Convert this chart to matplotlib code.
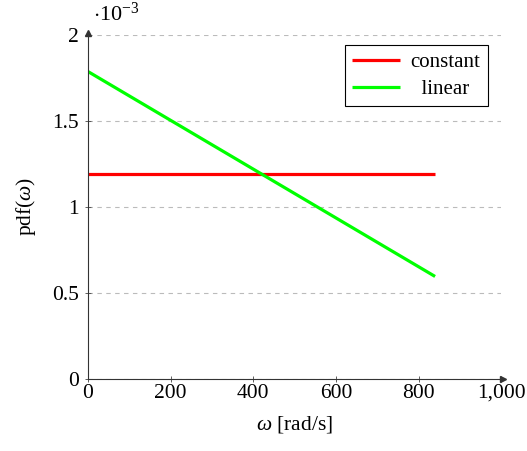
import matplotlib.pyplot as plt
from matplotlib.ticker import FuncFormatter

plt.rcParams["font.family"] = "Liberation Serif"
plt.rcParams["mathtext.fontset"] = "custom"
plt.rcParams["mathtext.rm"] = "Liberation Serif"
plt.rcParams["mathtext.it"] = "Liberation Serif:italic"

# pdf of omega over [0, 840] rad/s
omega = [0, 840]
constant = [1.19e-3, 1.19e-3]
linear = [1.786e-3, 0.595e-3]

xticks = [0, 200, 400, 600, 800, 1000]
yticks = [0, 0.5e-3, 1e-3, 1.5e-3, 2e-3]

fig = plt.figure(figsize=(5.27, 4.51), dpi=100)
ax = fig.add_axes([0.167, 0.160, 0.784, 0.763])

scale = 1e-3
ax.plot(omega, [v / scale for v in constant], color="#ff0000", lw=2.3, label="constant", solid_capstyle="butt")
ax.plot(omega, [v / scale for v in linear], color="#00ff00", lw=2.3, label="  linear", solid_capstyle="butt")

ax.set_xlim(0, 1000)
ax.set_ylim(0, 2)
ax.set_xticks(xticks)
ax.set_yticks([t / scale for t in yticks])
ax.xaxis.set_major_formatter(FuncFormatter(lambda v, p: f"{int(v):,}"))
ax.yaxis.set_major_formatter(FuncFormatter(lambda v, p: f"{v:g}"))
ax.tick_params(labelsize=15.5, direction="inout", length=5, width=0.6, color="#444444")
ax.tick_params(axis="x", pad=1)
ax.tick_params(axis="y", pad=4)

ax.grid(axis="y", linestyle=(0, (4, 4)), color="#bbbbbb", lw=0.8)
for s in ["top", "right"]:
    ax.spines[s].set_visible(False)
for s in ["left", "bottom"]:
    ax.spines[s].set_linewidth(0.8)
    ax.spines[s].set_color("#333333")

# axis arrows
ax.plot(1.004, 0, marker=">", color="#333333", ms=4, transform=ax.transAxes, clip_on=False)
ax.plot(0, 1.005, marker="^", color="#333333", ms=4, transform=ax.transAxes, clip_on=False)

ax.text(0.012, 1.025, r"$\cdot 10^{-3}$", transform=ax.transAxes, fontsize=16, va="bottom")

ax.set_xlabel(r"$\omega$ [rad/s]", fontsize=15.5, labelpad=8)
ax.set_ylabel(r"pdf($\omega$)", fontsize=15.5, labelpad=10)

leg = ax.legend(loc="upper right", bbox_to_anchor=(0.993, 1.0), fontsize=15, fancybox=False,
                edgecolor="black", framealpha=1, handlelength=2.3, handletextpad=0.5,
                borderpad=0.35, labelspacing=0.35)
leg.get_frame().set_linewidth(0.8)

fig.savefig("out.png", dpi=100)
